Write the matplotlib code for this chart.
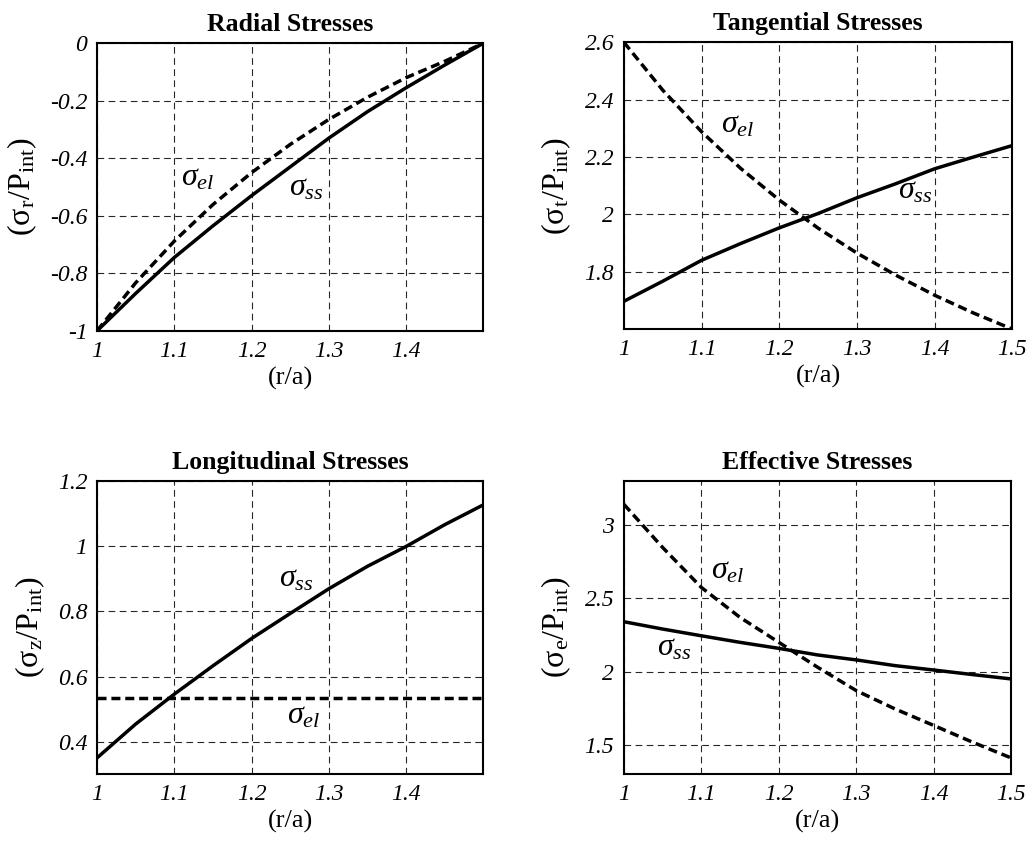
import matplotlib
matplotlib.use("Agg")
import matplotlib.pyplot as plt

plt.rcParams['font.family'] = ['Liberation Serif', 'DejaVu Serif']
plt.rcParams['mathtext.fontset'] = 'custom'
plt.rcParams['mathtext.rm'] = 'Liberation Serif'
plt.rcParams['mathtext.it'] = 'Liberation Serif:italic'

# r/a sample points
r = [1.0, 1.05, 1.1, 1.15, 1.2, 1.25, 1.3, 1.35, 1.4, 1.45, 1.5]

# radial
radial_el = [-1.0, -0.833, -0.688, -0.561, -0.45, -0.352, -0.265, -0.188, -0.12, -0.063, 0.0]
radial_ss = [-1.0, -0.87, -0.745, -0.635, -0.53, -0.43, -0.33, -0.238, -0.155, -0.076, 0.0]

# tangential
tang_el = [2.6, 2.433, 2.288, 2.161, 2.05, 1.952, 1.865, 1.788, 1.718, 1.656, 1.6]
tang_ss = [1.697, 1.767, 1.84, 1.898, 1.953, 2.003, 2.058, 2.107, 2.159, 2.2, 2.24]

# longitudinal
long_el = [0.533] * len(r)
long_ss = [0.35, 0.454, 0.546, 0.633, 0.717, 0.794, 0.87, 0.939, 1.0, 1.067, 1.128]

# effective
eff_el = [3.143, 2.848, 2.575, 2.37, 2.2, 2.03, 1.87, 1.745, 1.632, 1.518, 1.41]
eff_ss = [2.341, 2.291, 2.245, 2.2, 2.159, 2.114, 2.08, 2.041, 2.011, 1.98, 1.95]

panels = [
    dict(title='Radial Stresses', sub='r', el=radial_el, ss=radial_ss,
         ylim=(-1, 0), yticks=[-1, -0.8, -0.6, -0.4, -0.2, 0],
         ylabels=['-1', '-0.8', '-0.6', '-0.4', '-0.2', '0'],
         xticks=[1, 1.1, 1.2, 1.3, 1.4], xlabels=['1', '1.1', '1.2', '1.3', '1.4'],
         el_pos=(1.108, -0.47), ss_pos=(1.248, -0.505),
         rect=[0.094, 0.609, 0.374, 0.340]),
    dict(title='Tangential Stresses', sub='t', el=tang_el, ss=tang_ss,
         ylim=(1.6, 2.6), yticks=[1.8, 2.0, 2.2, 2.4, 2.6],
         ylabels=['1.8', '2', '2.2', '2.4', '2.6'],
         xticks=[1, 1.1, 1.2, 1.3, 1.4, 1.5], xlabels=['1', '1.1', '1.2', '1.3', '1.4', '1.5'],
         el_pos=(1.125, 2.31), ss_pos=(1.353, 2.08),
         rect=[0.604, 0.611, 0.376, 0.339]),
    dict(title='Longitudinal Stresses', sub='z', el=long_el, ss=long_ss,
         ylim=(0.3, 1.2), yticks=[0.4, 0.6, 0.8, 1.0, 1.2],
         ylabels=['0.4', '0.6', '0.8', '1', '1.2'],
         xticks=[1, 1.1, 1.2, 1.3, 1.4], xlabels=['1', '1.1', '1.2', '1.3', '1.4'],
         el_pos=(1.246, 0.48), ss_pos=(1.236, 0.9),
         rect=[0.094, 0.085, 0.374, 0.346]),
    dict(title='Effective Stresses', sub='e', el=eff_el, ss=eff_ss,
         ylim=(1.3, 3.3), yticks=[1.5, 2.0, 2.5, 3.0],
         ylabels=['1.5', '2', '2.5', '3'],
         xticks=[1, 1.1, 1.2, 1.3, 1.4, 1.5], xlabels=['1', '1.1', '1.2', '1.3', '1.4', '1.5'],
         el_pos=(1.113, 2.69), ss_pos=(1.043, 2.16),
         rect=[0.604, 0.085, 0.375, 0.346]),
]

fig = plt.figure(figsize=(10.33, 8.46), dpi=100)

for p in panels:
    ax = fig.add_axes(p['rect'])
    ax.plot(r, p['ss'], color='black', lw=2.5, solid_joinstyle='round', zorder=3)
    ax.plot(r, p['el'], color='black', lw=2.5, linestyle=(0, (2.6, 1.4)), zorder=3)
    ax.set_xlim(1, 1.5)
    ax.set_ylim(*p['ylim'])
    ax.set_xticks(p['xticks'])
    ax.set_xticklabels(p['xlabels'], fontstyle='italic', fontsize=17)
    ax.set_yticks(p['yticks'])
    ax.set_yticklabels(p['ylabels'], fontstyle='italic', fontsize=17)
    ax.tick_params(direction='in', length=0, pad=7)
    ax.grid(True, color='black', linestyle=(0, (6, 4)), linewidth=0.8, alpha=0.85)
    for s in ax.spines.values():
        s.set_linewidth(1.5)
    ax.set_title(p['title'], fontsize=18.5, fontweight='bold', pad=9)
    ax.set_xlabel('(r/a)', fontsize=19, labelpad=4)
    ax.set_ylabel(r'$(\mathrm{σ}_{\mathrm{%s}}/\mathrm{P}_{\mathrm{int}})$' % p['sub'],
                  fontsize=23, labelpad=8)
    ax.text(p['el_pos'][0], p['el_pos'][1], r'$\mathit{σ}_{\mathit{el}}$',
            fontsize=23, ha='left', va='center')
    ax.text(p['ss_pos'][0], p['ss_pos'][1], r'$\mathit{σ}_{\mathit{ss}}$',
            fontsize=23, ha='left', va='center')

fig.savefig('out.png', dpi=100)
